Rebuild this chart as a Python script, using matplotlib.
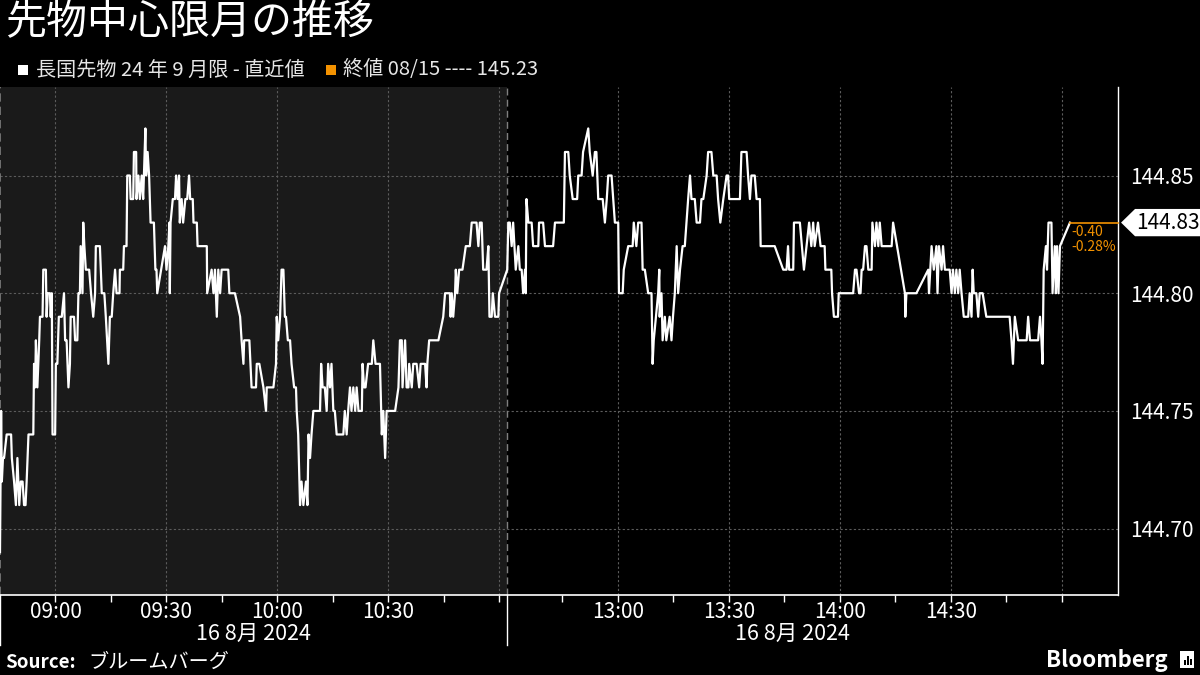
import matplotlib.pyplot as plt
from matplotlib.patches import Polygon, Rectangle

plt.rcParams['font.family'] = ['Noto Sans CJK JP', 'DejaVu Sans']

title = '先物中心限月の推移'
series_label = '長国先物 24 年 9 月限 - 直近値'
close_label = '終値 08/15 ---- 145.23'
prev_close = 145.23
date_label = '16 8月 2024'
source_label = 'ブルームバーグ'

# sessions: 08:45-11:02 and 12:30-15:02 (lunch break cut out of the axis)
am_open, am_close, pm_open = '08:45', '11:02', '12:30'

# minutes after 08:45 / prices
am_min = [0.0, 0.3, 0.5, 0.8, 1.1, 1.8, 3.0, 3.2, 3.8, 4.3, 4.7, 5.2, 5.6, 6.1, 6.5, 6.9, 7.2, 7.7, 9.0, 9.2,
          9.5, 9.7, 10.1, 10.6, 10.8, 11.5, 11.7, 12.4, 12.6, 12.9, 13.5, 13.7, 14.0, 14.2, 14.9, 15.1, 15.5,
          15.9, 16.7, 17.3, 17.6, 18.0, 18.5, 18.9, 19.1, 20.0, 20.3, 20.9, 21.2, 21.6, 21.8, 22.3, 22.5, 22.8,
          23.2, 24.1, 24.6, 25.2, 25.7, 25.9, 27.0, 27.5, 28.2, 28.6, 29.3, 29.7, 30.2, 30.6, 31.1, 31.5, 32.3,
          32.4, 33.3, 33.5, 34.2, 34.4, 35.1, 35.3, 36.0, 36.2, 36.8, 36.9, 37.4, 37.8, 38.3, 38.7, 38.9, 39.3,
          39.5, 39.9, 40.3, 40.7, 41.6, 42.0, 42.3, 42.5, 44.6, 45.0, 45.5, 45.8, 45.9, 46.1, 46.7, 47.3, 47.6,
          48.0, 48.4, 48.6, 49.1, 49.5, 50.1, 50.6, 51.1, 51.4, 52.1, 52.3, 53.2, 53.4, 55.9, 56.0, 57.2, 57.7,
          58.1, 58.6, 59.0, 59.5, 59.9, 61.7, 62.0, 63.5, 64.9, 65.3, 65.8, 66.0, 67.4, 68.0, 69.2, 69.4, 70.1,
          71.2, 71.9, 72.1, 73.9, 74.6, 74.8, 75.2, 75.7, 76.1, 76.6, 77.0, 77.3, 77.8, 78.4, 78.8, 79.5, 80.0,
          80.2, 80.6, 81.1, 81.5, 82.0, 82.7, 83.1, 83.4, 83.8, 84.2, 84.7, 86.5, 86.8, 87.2, 87.8, 88.3, 88.7,
          89.2, 89.6, 90.1, 90.5, 91.0, 92.8, 93.2, 93.7, 94.1, 94.6, 95.0, 95.5, 96.0, 96.4, 96.9, 97.8, 98.0,
          98.4, 98.8, 99.5, 100.5, 100.9, 101.5, 102.7, 103.2, 103.6, 104.1, 104.5, 105.4, 106.8, 107.7, 108.1,
          108.6, 108.8, 109.5, 109.9, 110.4, 110.6, 111.3, 111.7, 112.6, 113.3, 113.7, 114.0, 114.9, 115.3,
          115.5, 116.0, 118.5, 119.8, 120.3, 120.7, 121.6, 121.8, 122.1, 122.5, 123.0, 123.2, 123.6, 124.1,
          125.0, 125.9, 127.0, 127.5, 128.4, 128.8, 129.3, 129.7, 130.2, 130.6, 131.5, 132.0, 132.3, 132.9,
          133.2, 133.8, 134.7, 134.9]
am_price = [144.69, 144.75, 144.72, 144.73, 144.73, 144.74, 144.74, 144.73, 144.72, 144.71, 144.73, 144.71,
            144.72, 144.72, 144.71, 144.71, 144.72, 144.74, 144.74, 144.77, 144.76, 144.78, 144.76, 144.78,
            144.79, 144.79, 144.81, 144.81, 144.79, 144.80, 144.80, 144.79, 144.80, 144.74, 144.74, 144.77,
            144.77, 144.79, 144.79, 144.80, 144.78, 144.78, 144.76, 144.77, 144.79, 144.79, 144.78, 144.78,
            144.80, 144.80, 144.82, 144.80, 144.83, 144.82, 144.81, 144.81, 144.80, 144.79, 144.80, 144.82,
            144.82, 144.80, 144.80, 144.79, 144.77, 144.79, 144.79, 144.80, 144.81, 144.80, 144.80, 144.81,
            144.81, 144.82, 144.82, 144.85, 144.85, 144.84, 144.84, 144.86, 144.86, 144.84, 144.85, 144.84,
            144.85, 144.84, 144.85, 144.87, 144.85, 144.86, 144.85, 144.83, 144.83, 144.81, 144.81, 144.80,
            144.82, 144.81, 144.82, 144.83, 144.80, 144.83, 144.84, 144.84, 144.85, 144.84, 144.85, 144.83,
            144.84, 144.83, 144.84, 144.84, 144.85, 144.84, 144.84, 144.83, 144.83, 144.82, 144.82, 144.80,
            144.81, 144.80, 144.81, 144.79, 144.81, 144.80, 144.81, 144.81, 144.80, 144.80, 144.79, 144.78,
            144.77, 144.78, 144.78, 144.76, 144.76, 144.77, 144.77, 144.76, 144.75, 144.76, 144.76, 144.77,
            144.79, 144.78, 144.79, 144.81, 144.81, 144.79, 144.79, 144.78, 144.78, 144.77, 144.76, 144.76,
            144.75, 144.74, 144.71, 144.72, 144.71, 144.72, 144.71, 144.74, 144.73, 144.74, 144.75, 144.75,
            144.77, 144.76, 144.76, 144.75, 144.77, 144.76, 144.77, 144.75, 144.75, 144.74, 144.74, 144.75,
            144.74, 144.75, 144.76, 144.75, 144.76, 144.75, 144.76, 144.75, 144.75, 144.77, 144.76, 144.76,
            144.77, 144.77, 144.78, 144.77, 144.77, 144.74, 144.75, 144.73, 144.75, 144.75, 144.75, 144.76,
            144.78, 144.78, 144.76, 144.78, 144.76, 144.76, 144.77, 144.76, 144.77, 144.77, 144.76, 144.77,
            144.77, 144.77, 144.76, 144.77, 144.78, 144.78, 144.79, 144.80, 144.80, 144.80, 144.79, 144.80,
            144.79, 144.80, 144.81, 144.80, 144.81, 144.81, 144.82, 144.82, 144.83, 144.83, 144.83, 144.82,
            144.83, 144.83, 144.81, 144.81, 144.82, 144.79, 144.79, 144.80, 144.79, 144.79, 144.80]

# minutes after 12:30 / prices
pm_min = [0.1, 0.4, 0.8, 1.3, 1.7, 2.4, 3.1, 3.5, 4.0, 4.4, 4.9, 5.1, 5.3, 5.8, 6.7, 7.1, 8.5, 8.7, 9.8, 10.3,
          12.5, 13.0, 15.4, 15.7, 16.6, 17.0, 17.8, 19.0, 19.3, 20.2, 20.6, 22.0, 22.4, 23.2, 23.8, 24.2, 24.7,
          25.9, 26.5, 27.0, 27.4, 28.3, 29.2, 30.1, 30.3, 31.3, 31.6, 32.8, 33.2, 34.0, 34.3, 35.0, 35.5, 36.4,
          36.7, 37.3, 38.2, 39.1, 39.4, 39.7, 40.3, 40.9, 41.2, 41.3, 41.8, 42.1, 42.7, 43.1, 44.0, 44.5, 44.9,
          45.4, 45.9, 46.3, 46.8, 47.5, 48.1, 49.0, 49.5, 49.9, 50.8, 51.3, 52.2, 52.6, 53.1, 54.0, 54.4, 55.3,
          55.8, 56.7, 57.1, 57.7, 58.5, 59.4, 59.8, 60.1, 63.0, 63.4, 64.8, 65.2, 65.7, 66.1, 67.0, 67.5, 68.4,
          68.6, 72.4, 74.7, 75.6, 76.0, 76.3, 77.4, 77.6, 79.2, 80.3, 81.7, 82.3, 82.8, 83.2, 84.1, 84.8, 85.9,
          86.1, 87.7, 87.9, 88.4, 89.5, 89.7, 93.6, 94.1, 94.5, 95.2, 95.6, 95.9, 96.3, 96.8, 97.2, 97.7, 98.6,
          98.8, 99.5, 99.9, 100.4, 100.8, 101.3, 104.0, 104.4, 107.6, 107.7, 108.0, 110.7, 113.9, 114.1, 114.8,
          115.4, 116.1, 116.4, 116.8, 117.5, 117.9, 118.4, 119.7, 120.2, 120.6, 121.1, 121.5, 122.0, 122.4,
          122.9, 123.5, 124.7, 125.1, 125.6, 125.9, 126.2, 126.9, 127.4, 127.8, 128.6, 129.6, 135.9, 136.4,
          136.8, 137.3, 138.2, 140.5, 140.9, 141.4, 143.6, 144.1, 144.5, 144.8, 145.1, 145.7, 146.0, 146.4,
          147.2, 147.5, 148.1, 148.4, 148.7, 149.1, 149.5, 152.2]
pm_price = [144.81, 144.83, 144.83, 144.82, 144.83, 144.81, 144.82, 144.81, 144.81, 144.80, 144.81, 144.80,
            144.84, 144.83, 144.83, 144.82, 144.82, 144.83, 144.83, 144.82, 144.82, 144.83, 144.83, 144.86,
            144.86, 144.85, 144.84, 144.84, 144.85, 144.85, 144.86, 144.87, 144.86, 144.85, 144.86, 144.86,
            144.84, 144.84, 144.83, 144.84, 144.85, 144.85, 144.83, 144.83, 144.80, 144.80, 144.81, 144.82,
            144.82, 144.82, 144.83, 144.82, 144.83, 144.83, 144.81, 144.81, 144.80, 144.80, 144.77, 144.78,
            144.79, 144.80, 144.81, 144.79, 144.80, 144.78, 144.79, 144.78, 144.79, 144.78, 144.79, 144.80,
            144.82, 144.80, 144.81, 144.82, 144.82, 144.84, 144.85, 144.84, 144.84, 144.83, 144.83, 144.84,
            144.84, 144.85, 144.86, 144.86, 144.85, 144.85, 144.84, 144.83, 144.84, 144.85, 144.85, 144.84,
            144.84, 144.86, 144.86, 144.85, 144.84, 144.85, 144.85, 144.84, 144.84, 144.82, 144.82, 144.81,
            144.81, 144.82, 144.81, 144.81, 144.83, 144.83, 144.81, 144.83, 144.82, 144.83, 144.82, 144.83,
            144.82, 144.82, 144.81, 144.81, 144.80, 144.79, 144.79, 144.80, 144.80, 144.81, 144.81, 144.80,
            144.80, 144.81, 144.81, 144.82, 144.82, 144.81, 144.81, 144.83, 144.82, 144.83, 144.82, 144.83,
            144.82, 144.82, 144.83, 144.80, 144.79, 144.80, 144.80, 144.81, 144.80, 144.82, 144.81, 144.82,
            144.80, 144.82, 144.81, 144.82, 144.81, 144.81, 144.80, 144.81, 144.80, 144.81, 144.80, 144.81,
            144.80, 144.79, 144.79, 144.80, 144.79, 144.81, 144.80, 144.80, 144.79, 144.80, 144.80, 144.79,
            144.79, 144.78, 144.77, 144.79, 144.78, 144.78, 144.79, 144.78, 144.78, 144.79, 144.78, 144.77,
            144.81, 144.82, 144.81, 144.83, 144.83, 144.80, 144.82, 144.80, 144.82, 144.80, 144.82, 144.83]

yticks = [144.70, 144.75, 144.80, 144.85]
xlabels = ['09:00', '09:30', '10:00', '10:30', '13:00', '13:30', '14:00', '14:30']
quarter_ticks = ['09:00', '09:15', '09:30', '09:45', '10:00', '10:15', '10:30', '10:45', '11:00',
                 '12:45', '13:00', '13:15', '13:30', '13:45', '14:00', '14:15', '14:30', '14:45', '15:00']
grid_times = ['09:00', '09:30', '10:00', '10:30', '11:00', '13:00', '13:30', '14:00', '14:30', '15:00']


def minutes(hhmm):
    h, m = hhmm.split(':')
    return int(h) * 60 + int(m)


am_len = minutes(am_close) - minutes(am_open)


def to_x(hhmm):
    t = minutes(hhmm)
    if t <= minutes(am_close):
        return t - minutes(am_open)
    return am_len + t - minutes(pm_open)


xs = am_min + [am_len + m for m in pm_min]
ys = am_price + pm_price
last = ys[-1]

fig = plt.figure(figsize=(12, 6.75), dpi=100, facecolor='black')
ax = fig.add_axes([0, 0.1185, 0.9317, 0.7526])
ax.set_facecolor('black')
ax.set_xlim(0, 302.2)
ax.set_ylim(144.6718, 144.8876)

ax.axvspan(0, am_len, color='#1a1a1a', zorder=0, lw=0)
for t in grid_times:
    ax.axvline(to_x(t), color='#5c5c5c', lw=0.8, ls=(0, (2, 2)), zorder=1)
for v in yticks:
    ax.axhline(v, color='#5c5c5c', lw=0.8, ls=(0, (2, 2)), zorder=1)
ax.axvline(am_len, color='#808080', lw=1, ls=(0, (5, 3)), zorder=1)
ax.axvline(0, color='#808080', lw=1.2, ls=(0, (5, 3)), zorder=1, clip_on=False)

ax.plot(xs, ys, color='white', lw=1.6, zorder=3)

# last value vs previous close
ax.plot([xs[-1], 302.2], [last, last], color='#f39200', lw=1.2, zorder=3, clip_on=False)
chg = last - prev_close
ax.annotate(f'{chg:.2f}', (xs[-1], last), xytext=(1, -6.5), textcoords='offset points',
            color='#f39200', fontsize=10, va='center')
ax.annotate(f'{chg / prev_close * 100:.2f}%', (xs[-1], last), xytext=(1, -17.5), textcoords='offset points',
            color='#f39200', fontsize=10, va='center')

ytr = ax.get_yaxis_transform()
tag = Polygon([(1.0027, last), (1.0152, last + 0.0058), (1.08, last + 0.0058),
               (1.08, last - 0.0058), (1.0152, last - 0.0058)],
              closed=True, transform=ytr, fc='white', ec='none', clip_on=False, zorder=5)
ax.add_patch(tag)
ax.text(1.0445, last, f'{last:.2f}', transform=ytr, color='black', fontsize=15,
        ha='center', va='center', zorder=6, clip_on=False)

# axes look
for s in ['left', 'top']:
    ax.spines[s].set_visible(False)
ax.spines['bottom'].set_color('white')
ax.spines['bottom'].set_linewidth(1.2)
ax.spines['right'].set_color('white')
ax.spines['right'].set_linewidth(1)

ax.yaxis.tick_right()
ax.set_yticks(yticks, [f'{v:.2f}' for v in yticks])
ax.tick_params(axis='y', length=0, pad=8.5, labelsize=15, labelcolor='white')

ax.set_xticks([to_x(t) for t in xlabels], xlabels)
ax.set_xticks([to_x(t) for t in quarter_ticks], minor=True)
ax.tick_params(axis='x', which='both', length=5, width=1, color='white', labelsize=15,
               labelcolor='white', pad=-1)

xtr = ax.get_xaxis_transform()
for xv in [0, am_len]:
    ax.plot([xv, xv], [0, -0.098], transform=xtr, color='white', lw=1, clip_on=False)
ax.text(am_len / 2, -0.077, date_label, transform=xtr, color='white', fontsize=15.5, ha='center', va='center')
ax.text(214.3, -0.077, date_label, transform=xtr, color='white', fontsize=15.5, ha='center', va='center')

# header
fig.text(0.004, 0.966, title, color='white', fontsize=29.5, va='center')
fig.patches.append(Rectangle((18 / 1200, 1 - 75 / 675), 10 / 1200, 10 / 675, transform=fig.transFigure,
                             fc='white', ec='none'))
fig.text(36 / 1200, 1 - 70 / 675, series_label, color='#e6e6e6', fontsize=14.5, va='center')
fig.patches.append(Rectangle((326 / 1200, 1 - 75 / 675), 10 / 1200, 10 / 675, transform=fig.transFigure,
                             fc='#f39200', ec='none'))
fig.text(343 / 1200, 1 - 70 / 675, close_label, color='#e6e6e6', fontsize=14.5, va='center')

# footer
fig.text(5 / 1200, 1 - 662 / 675, 'Source:', color='white', fontsize=13.5, fontweight='bold', va='center')
fig.text(88 / 1200, 1 - 662 / 675, source_label, color='white', fontsize=14.5, va='center')
fig.text(1168 / 1200, 1 - 660 / 675, 'Bloomberg', color='white', fontsize=16, fontweight='bold',
         ha='right', va='center')
fig.patches.append(Rectangle((1180 / 1200, 1 - 668 / 675), 14 / 1200, 17 / 675, transform=fig.transFigure,
                             fc='white', ec='none'))
for bx, bh in [(1183.5, 5), (1186.5, 9), (1189.5, 6)]:
    fig.patches.append(Rectangle((bx / 1200, 1 - 665 / 675), 2 / 1200, bh / 675, transform=fig.transFigure,
                                 fc='black', ec='none'))

fig.savefig('out.png', dpi=100, facecolor='black')
